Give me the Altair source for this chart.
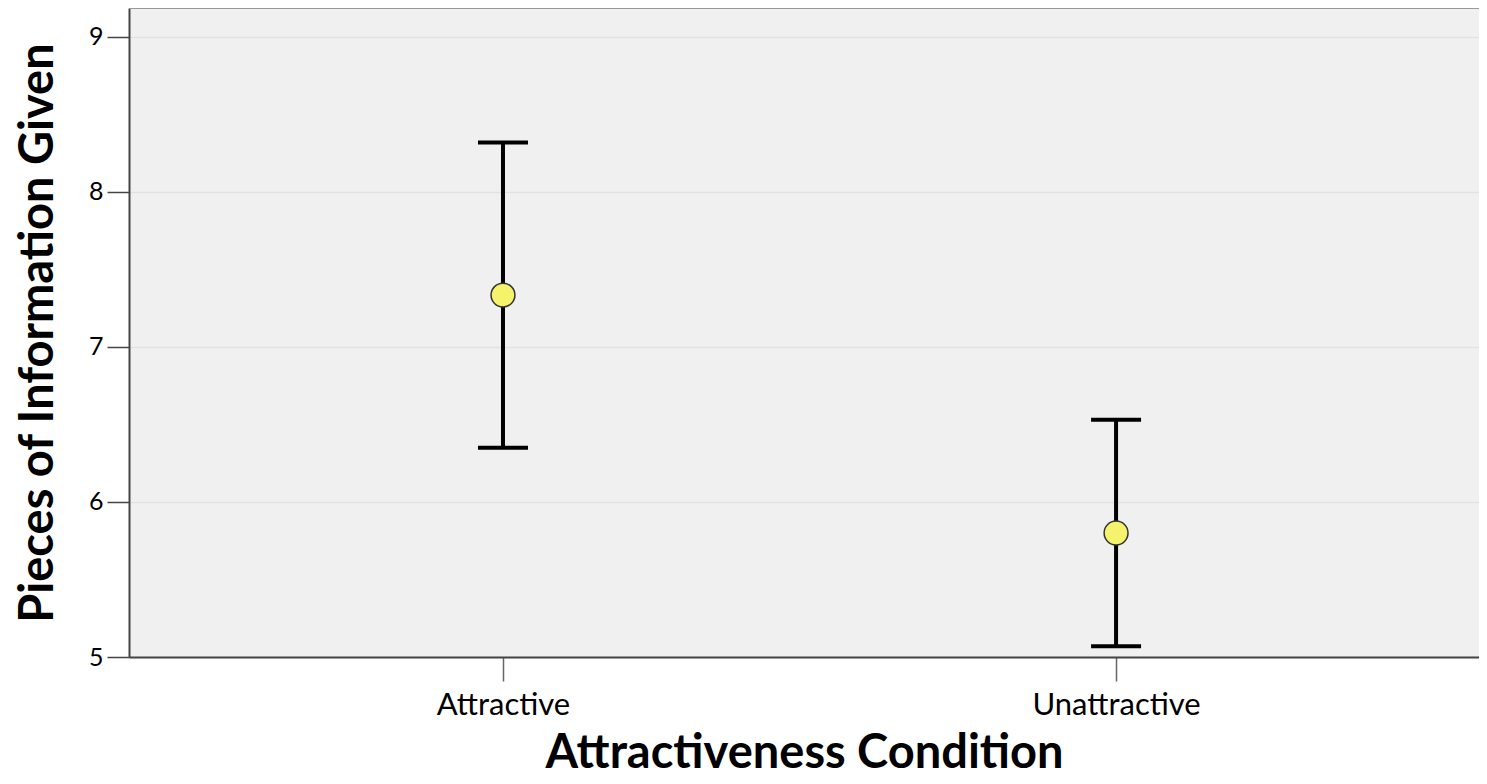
import altair as alt
import pandas as pd

# ---- data ----
conditions = ["Attractive", "Unattractive"]
means = [7.335, 5.80]
ci_low = [6.35, 5.07]
ci_high = [8.32, 6.53]

y_ticks = [5, 5.5, 6, 6.5, 7, 7.5, 8, 8.5, 9]
Y_MIN, Y_MAX = 5, 9.187

df = pd.DataFrame({"condition": conditions, "mean": means, "low": ci_low, "high": ci_high})

FONT = "Lato"

x_scale = alt.Scale(type="point", domain=conditions, padding=0.601, align=0.5075)
y_scale = alt.Scale(domain=[Y_MIN, Y_MAX], nice=False, zero=False)

x_axis = alt.Axis(
    title="Attractiveness Condition",
    titleFont=FONT, titleFontSize=47, titleFontWeight="bold", titleColor="black",
    titlePadding=10,
    labelFont=FONT, labelFontSize=31, labelColor="black", labelPadding=9,
    labelAngle=0,
    tickSize=24, tickColor="#666", tickWidth=1.5,
    domainColor="#444", domainWidth=2,
    grid=False,
)

y_axis = alt.Axis(
    title="Pieces of Information Given",
    titleFont=FONT, titleFontSize=47, titleFontWeight="bold", titleColor="black",
    titlePadding=26,
    labelFont=FONT, labelFontSize=25, labelColor="black", labelPadding=4,
    values=y_ticks,
    format="d",
    labelExpr="datum.value % 1 === 0 ? datum.label : ''",
    tickSize={"condition": {"test": "datum.value % 1 === 0", "value": 22}, "value": 11},
    tickColor="#444", tickWidth=1.5,
    domainColor="#444", domainWidth=2,
    grid=True, gridColor="#e2e2e2", gridWidth=1.5,
    gridOpacity={"condition": {"test": "datum.value % 1 === 0", "value": 1}, "value": 0},
)

base = alt.Chart(df)

x_enc = alt.X("condition:N", scale=x_scale, axis=x_axis)

top_line = base.mark_rule(color="#999", strokeWidth=2).encode(y=alt.value(0))

bars = base.mark_rule(color="black", strokeWidth=4).encode(
    x=x_enc,
    y=alt.Y("low:Q", scale=y_scale, axis=y_axis),
    y2="high:Q",
)
caps_low = base.mark_tick(color="black", size=50, thickness=4, orient="horizontal", opacity=1).encode(
    x=x_enc, y=alt.Y("low:Q", scale=y_scale)
)
caps_high = base.mark_tick(color="black", size=50, thickness=4, orient="horizontal", opacity=1).encode(
    x=x_enc, y=alt.Y("high:Q", scale=y_scale)
)
points = base.mark_circle(size=570, color="#f5f36b", stroke="#333", strokeWidth=1.5, opacity=1).encode(
    x=x_enc, y=alt.Y("mean:Q", scale=y_scale)
)

chart = (
    alt.layer(top_line, bars, caps_low, caps_high, points)
    .properties(
        width=1350,
        height=649,
        autosize=alt.AutoSizeParams(type="none"),
        padding={"left": 121, "top": 0, "right": 0, "bottom": 127},
    )
    .configure_view(fill="#f0f0f0", strokeWidth=0)
)

chart.save("out.html", embed_options={"renderer": "svg", "actions": False})
